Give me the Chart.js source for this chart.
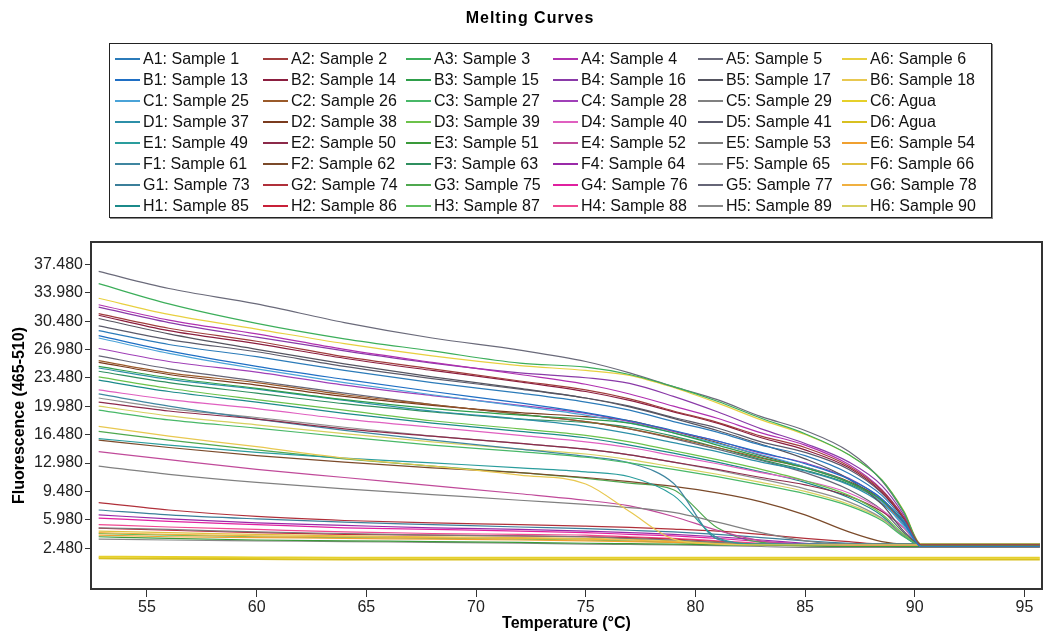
<!DOCTYPE html>
<html>
<head>
<meta charset="utf-8">
<script src="https://cdn.jsdelivr.net/npm/chart.js@4.4.0/dist/chart.umd.min.js"></script>
<style>
  body { margin: 0; background: #fff; font-family: "Liberation Sans", Arial, sans-serif; }
  #wrap { position: relative; width: 1044px; height: 638px; overflow: hidden; }
  #plot { position: absolute; left: 0; top: 0; }
  #title { position: absolute; left: 0; width: 1060px; top: 9px; text-align: center;
           font-weight: bold; font-size: 16px; letter-spacing: 1px; color: #000; }
  #legend { position: absolute; left: 109px; top: 43px; width: 883px; height: 175px;
            box-sizing: border-box; border: 1px solid #222; box-shadow: 1px 1px 0 #888;
            padding: 4px 0 0 5px; display: grid;
            grid-template-columns: 148px 143px 147px 145px 144px 1fr; grid-auto-rows: 21px; background: #fff; }
  .item { display: flex; align-items: center; font-size: 16px; color: #111; white-space: nowrap; }
  .item span.ln { display: inline-block; width: 25px; height: 2px; margin-right: 3px; }
</style>
</head>
<body>
<div id="wrap">
  <canvas id="plot" width="1044" height="638"></canvas>
  <div id="title">Melting Curves</div>
  <div id="legend"></div>
</div>
<script>
// temperatures (°C) shared by every curve
const temps = [52.8, 56, 60, 64, 68, 72, 75, 77, 79, 81, 83, 85, 87, 88.5, 89.5, 90.3, 95.7];
const xTicks = [55, 60, 65, 70, 75, 80, 85, 90, 95];
const yTicks = [2.48, 5.98, 9.48, 12.98, 16.48, 19.98, 23.48, 26.98, 30.48, 33.98, 37.48];

const wellLabels = [
  'A1: Sample 1', 'A2: Sample 2', 'A3: Sample 3', 'A4: Sample 4', 'A5: Sample 5', 'A6: Sample 6',
  'B1: Sample 13', 'B2: Sample 14', 'B3: Sample 15', 'B4: Sample 16', 'B5: Sample 17', 'B6: Sample 18',
  'C1: Sample 25', 'C2: Sample 26', 'C3: Sample 27', 'C4: Sample 28', 'C5: Sample 29', 'C6: Agua',
  'D1: Sample 37', 'D2: Sample 38', 'D3: Sample 39', 'D4: Sample 40', 'D5: Sample 41', 'D6: Agua',
  'E1: Sample 49', 'E2: Sample 50', 'E3: Sample 51', 'E4: Sample 52', 'E5: Sample 53', 'E6: Sample 54',
  'F1: Sample 61', 'F2: Sample 62', 'F3: Sample 63', 'F4: Sample 64', 'F5: Sample 65', 'F6: Sample 66',
  'G1: Sample 73', 'G2: Sample 74', 'G3: Sample 75', 'G4: Sample 76', 'G5: Sample 77', 'G6: Sample 78',
  'H1: Sample 85', 'H2: Sample 86', 'H3: Sample 87', 'H4: Sample 88', 'H5: Sample 89', 'H6: Sample 90'
];

const lineColors = [
  '#2b7bb9', '#a03c3c', '#3cae5a', '#b030b0', '#6a6a7a', '#e8d040',
  '#1f6fc4', '#8b1e3f', '#2e9e4a', '#8a3aa8', '#555560', '#e8c850',
  '#4aa3d8', '#9a5a2a', '#48b868', '#a040b8', '#808080', '#e6d02a',
  '#2c8fa8', '#7a3b1e', '#6cc24a', '#e060c0', '#5a5a6a', '#d8c020',
  '#2a9d9d', '#8c2a4a', '#3a9a3a', '#c04a9a', '#7a7a7a', '#f0a030',
  '#3f86a0', '#7b4a2a', '#2f8f5f', '#9a2aa8', '#909090', '#e0c040',
  '#3b7f9a', '#b0303a', '#4fa84f', '#e020a0', '#666677', '#f0b040',
  '#1b8a8a', '#c82038', '#5fbf5f', '#f04890', '#888888', '#d8d060'
];

// fluorescence per well
const A1 = [29.3, 27.6, 26.1, 24.4, 22.9, 21.6, 20.5, 19.5, 18.1, 16.8, 15.2, 13.9, 11.7, 9.0, 5.9, 2.7, 2.7];
const A2 = [31.4, 29.6, 28.0, 26.1, 24.6, 23.1, 22.0, 20.9, 19.4, 18.0, 16.3, 14.9, 12.6, 9.6, 6.3, 2.9, 2.9];
const A3 = [35.1, 32.6, 30.2, 28.3, 26.8, 25.3, 24.8, 23.9, 22.4, 20.6, 18.5, 16.6, 14.0, 10.9, 7.0, 2.8, 2.8];
const A4 = [32.5, 30.6, 28.9, 27.0, 25.4, 23.9, 22.7, 21.5, 20.0, 18.5, 16.7, 15.2, 12.8, 9.7, 6.3, 2.7, 2.7];
const A5 = [36.6, 34.5, 32.6, 30.3, 28.4, 26.9, 25.5, 24.1, 22.4, 20.8, 18.7, 17.0, 14.4, 10.8, 6.9, 2.9, 2.9];
const A6 = [33.3, 31.3, 29.5, 27.7, 26.2, 25.0, 24.4, 23.8, 22.3, 20.4, 18.3, 16.5, 14.0, 10.9, 7.1, 3.0, 3.0];
const B1 = [28.7, 26.8, 24.9, 23.3, 21.8, 20.4, 19.2, 18.2, 17.0, 15.7, 14.3, 12.9, 11.0, 8.6, 5.6, 2.8, 2.8];
const B2 = [31.2, 29.3, 27.7, 25.9, 24.4, 23.0, 21.8, 20.7, 19.3, 17.9, 16.1, 14.6, 12.4, 9.4, 6.1, 2.8, 2.8];
const B3 = [24.9, 23.5, 22.2, 20.8, 19.7, 18.9, 18.4, 17.9, 16.7, 15.2, 13.7, 12.4, 10.6, 8.4, 5.8, 2.9, 2.9];
const B4 = [32.2, 30.3, 28.5, 26.8, 25.3, 24.1, 23.5, 22.8, 21.2, 19.3, 17.2, 15.4, 13.1, 10.2, 6.6, 2.8, 2.8];
const B5 = [30.8, 28.9, 27.0, 25.2, 23.6, 22.2, 21.0, 19.9, 18.5, 17.0, 15.3, 13.5, 11.0, 7.9, 4.6, 2.9, 2.9];
const B6 = [17.5, 16.3, 15.0, 13.6, 12.6, 11.5, 10.4, 7.0, 3.6, 3.0, 2.9, 2.9, 2.9, 2.9, 2.9, 2.9, 2.9];
const C1 = [28.4, 26.5, 24.6, 22.9, 21.4, 20.0, 18.9, 17.9, 16.7, 15.4, 14.0, 12.5, 10.6, 8.2, 5.2, 2.9, 2.9];
const C2 = [25.6, 24.1, 22.9, 21.4, 20.2, 19.0, 18.1, 17.2, 16.1, 14.9, 13.6, 12.4, 10.6, 8.2, 5.6, 2.9, 2.9];
const C3 = [19.5, 18.3, 17.3, 16.2, 15.2, 14.4, 13.7, 13.0, 12.2, 11.3, 10.3, 9.2, 7.7, 5.9, 3.9, 2.9, 2.9];
const C4 = [27.1, 25.5, 24.2, 22.6, 21.3, 20.1, 19.1, 18.1, 16.9, 15.7, 14.2, 13.0, 11.1, 8.5, 5.7, 2.8, 2.8];
const C5 = [12.6, 11.6, 10.6, 9.8, 9.1, 8.4, 7.9, 7.5, 6.9, 5.7, 4.4, 3.4, 3.0, 3.0, 3.0, 3.0, 3.0];
const C6 = [1.45, 1.4, 1.35, 1.3, 1.3, 1.3, 1.3, 1.3, 1.3, 1.3, 1.3, 1.3, 1.3, 1.3, 1.3, 1.3, 1.3];
const D1 = [24.7, 23.3, 22.1, 20.7, 19.4, 18.4, 17.5, 16.6, 15.5, 14.4, 13.1, 12.0, 10.3, 8.0, 5.4, 2.8, 2.8];
const D2 = [25.4, 23.9, 22.6, 21.2, 20.1, 19.2, 18.7, 18.2, 16.9, 15.5, 13.9, 12.5, 10.7, 8.5, 5.7, 2.8, 2.8];
const D3 = [23.6, 22.2, 20.8, 19.5, 18.2, 17.2, 16.4, 15.6, 14.5, 13.4, 12.2, 10.8, 9.0, 6.7, 4.2, 3.0, 3.0];
const D4 = [22.0, 20.8, 19.7, 18.4, 17.4, 16.4, 15.6, 14.9, 13.9, 12.9, 11.8, 10.8, 9.3, 7.2, 5.0, 2.7, 2.7];
const D5 = [29.9, 28.2, 26.7, 24.9, 23.4, 22.1, 21.0, 20.0, 18.6, 17.3, 15.6, 14.3, 12.2, 9.3, 6.2, 3.0, 3.0];
const D6 = [1.25, 1.2, 1.15, 1.1, 1.1, 1.1, 1.1, 1.1, 1.1, 1.1, 1.1, 1.1, 1.1, 1.1, 1.1, 1.1, 1.1];
const E1 = [16.0, 15.2, 14.3, 13.6, 13.0, 12.4, 11.9, 11.3, 9.0, 3.8, 3.0, 3.0, 3.0, 3.0, 3.0, 3.0, 3.0];
const E2 = [20.5, 19.4, 18.4, 17.2, 16.3, 15.4, 14.7, 14.0, 13.1, 12.2, 11.2, 10.3, 8.9, 7.0, 5.0, 2.9, 2.9];
const E3 = [3.9, 3.7, 3.5, 3.4, 3.3, 3.2, 3.1, 3.05, 3.0, 2.9, 2.85, 2.8, 2.7, 2.7, 2.7, 2.7, 2.7];
const E4 = [14.4, 13.4, 12.2, 11.2, 10.2, 9.2, 8.4, 7.7, 6.4, 4.7, 3.4, 3.0, 2.9, 2.9, 2.9, 2.9, 2.9];
const E5 = [5.0, 4.8, 4.5, 4.3, 4.1, 4.0, 3.9, 3.7, 3.5, 3.2, 3.0, 2.8, 2.7, 2.7, 2.6, 2.6, 2.6];
const E6 = [4.1, 3.9, 3.8, 3.7, 3.6, 3.5, 3.4, 3.3, 3.2, 3.0, 2.9, 2.8, 2.8, 2.8, 2.8, 2.8, 2.8];
const F1 = [21.5, 20.0, 18.4, 17.0, 15.8, 14.7, 13.8, 13.0, 10.5, 3.6, 3.0, 3.0, 3.0, 3.0, 3.0, 3.0, 3.0];
const F2 = [15.8, 14.9, 13.9, 13.1, 12.4, 11.8, 11.2, 10.7, 10.1, 9.3, 8.2, 6.6, 4.5, 3.3, 3.0, 3.0, 3.0];
const F3 = [24.3, 22.9, 21.6, 20.3, 19.3, 18.4, 18.0, 17.4, 16.3, 14.9, 13.4, 12.1, 10.4, 8.3, 5.7, 2.9, 2.9];
const F4 = [6.6, 6.1, 5.6, 5.3, 5.0, 4.8, 4.6, 4.4, 4.2, 3.9, 3.5, 3.1, 2.8, 2.7, 2.7, 2.7, 2.7];
const F5 = [21.0, 19.7, 18.6, 17.4, 16.3, 15.4, 14.7, 14.0, 13.1, 12.1, 11.0, 9.8, 8.2, 6.2, 4.1, 3.0, 3.0];
const F6 = [4.6, 4.4, 4.2, 4.0, 3.9, 3.8, 3.7, 3.6, 3.4, 3.2, 3.0, 2.9, 2.8, 2.8, 2.8, 2.8, 2.8];
const G1 = [7.2, 6.6, 6.1, 5.7, 5.4, 5.1, 4.9, 4.7, 4.5, 4.2, 3.8, 3.4, 3.1, 3.0, 2.9, 2.9, 2.9];
const G2 = [8.1, 7.2, 6.4, 5.9, 5.6, 5.4, 5.2, 5.05, 4.85, 4.6, 4.2, 3.7, 3.3, 3.0, 3.0, 2.9, 2.9];
const G3 = [16.9, 15.8, 14.6, 13.5, 12.6, 11.8, 11.1, 10.5, 9.7, 5.0, 3.2, 3.0, 3.0, 3.0, 3.0, 3.0, 3.0];
const G4 = [6.2, 5.8, 5.4, 5.0, 4.8, 4.6, 4.4, 4.2, 4.0, 3.7, 3.3, 3.0, 2.8, 2.7, 2.7, 2.7, 2.7];
const G5 = [26.2, 24.6, 23.1, 21.6, 20.2, 19.0, 18.1, 17.2, 16.0, 14.7, 13.3, 11.8, 9.7, 7.2, 4.4, 3.0, 3.0];
const G6 = [4.4, 4.2, 4.0, 3.9, 3.8, 3.7, 3.6, 3.5, 3.3, 3.1, 2.9, 2.9, 2.8, 2.8, 2.8, 2.8, 2.8];
const H1 = [23.2, 21.8, 20.5, 19.1, 17.9, 16.9, 16.1, 15.2, 14.2, 13.1, 11.9, 10.6, 8.7, 6.5, 4.0, 2.8, 2.8];
const H2 = [4.95, 4.7, 4.4, 4.2, 4.1, 4.0, 3.9, 3.8, 3.6, 3.3, 3.0, 2.9, 2.8, 2.8, 2.8, 2.8, 2.8];
const H3 = [4.3, 4.1, 3.9, 3.8, 3.7, 3.6, 3.5, 3.4, 3.2, 3.0, 2.9, 2.8, 2.8, 2.7, 2.7, 2.7, 2.7];
const H4 = [5.4, 5.1, 4.8, 4.5, 4.3, 4.2, 4.1, 3.9, 3.7, 3.4, 3.1, 2.9, 2.7, 2.7, 2.7, 2.7, 2.7];
const H5 = [3.6, 3.5, 3.4, 3.3, 3.2, 3.1, 3.0, 2.95, 2.9, 2.8, 2.7, 2.6, 2.6, 2.6, 2.6, 2.6, 2.6];
const H6 = [20.0, 18.8, 17.7, 16.6, 15.6, 14.7, 14.1, 13.4, 12.5, 11.6, 10.6, 9.5, 7.9, 6.1, 4.0, 3.0, 3.0];

const curves = [
  A1, A2, A3, A4, A5, A6,
  B1, B2, B3, B4, B5, B6,
  C1, C2, C3, C4, C5, C6,
  D1, D2, D3, D4, D5, D6,
  E1, E2, E3, E4, E5, E6,
  F1, F2, F3, F4, F5, F6,
  G1, G2, G3, G4, G5, G6,
  H1, H2, H3, H4, H5, H6
];

const fontFam = "'Liberation Sans', Arial, sans-serif";

// frame round the plot area
const frame = {
  id: 'frame',
  afterDatasetsDraw(chart) {
    const { ctx, chartArea: a } = chart;
    ctx.save();
    ctx.strokeStyle = '#333';
    ctx.lineWidth = 2;
    ctx.strokeRect(a.left, a.top, a.right - a.left, a.bottom - a.top);
    ctx.restore();
  }
};

const ctx = document.getElementById('plot').getContext('2d');
const chart = new Chart(ctx, {
  type: 'line',
  data: {
    datasets: curves.map((vals, i) => ({
      label: wellLabels[i],
      data: temps.map((t, j) => ({ x: t, y: vals[j] })),
      borderColor: lineColors[i],
      backgroundColor: lineColors[i],
      borderWidth: wellLabels[i].endsWith('Agua') ? 2 : 1.2,
      pointRadius: 0,
      fill: false,
      cubicInterpolationMode: 'monotone'
    }))
  },
  options: {
    responsive: false,
    animation: false,
    devicePixelRatio: 1,
    layout: { padding: { top: 242, right: 2, left: 0, bottom: 0 } },
    plugins: { legend: { display: false }, tooltip: { enabled: false } },
    scales: {
      x: {
        type: 'linear',
        min: 52.45,
        max: 95.8,
        afterBuildTicks: s => { s.ticks = xTicks.map(v => ({ value: v })); },
        afterFit: s => { s.height = 49; },
        grid: { drawOnChartArea: false, tickLength: 8, tickColor: '#333' },
        border: { display: false },
        ticks: { font: { size: 16, family: fontFam }, color: '#222', padding: 1, maxRotation: 0 },
        title: {
          display: true, text: 'Temperature (°C)', color: '#000',
          font: { size: 16, weight: 'bold', family: fontFam }, padding: { top: 0, bottom: 5 }
        }
      },
      y: {
        min: -2.54,
        max: 40.23,
        afterBuildTicks: s => { s.ticks = yTicks.map(v => ({ value: v })); },
        afterFit: s => { s.width = 91; },
        grid: { drawOnChartArea: false, tickLength: 6, tickColor: '#333' },
        border: { display: false },
        ticks: { font: { size: 16, family: fontFam }, color: '#222', padding: 2, callback: v => v.toFixed(3) },
        title: {
          display: true, text: 'Fluorescence (465-510)', color: '#000',
          font: { size: 16, weight: 'bold', family: fontFam }, padding: { top: 10, bottom: 0 }
        }
      }
    }
  },
  plugins: [frame]
});

// legend box, 6 columns like the plate layout
const legendBox = document.getElementById('legend');
chart.data.datasets.forEach(ds => {
  const item = document.createElement('div');
  item.className = 'item';
  const ln = document.createElement('span');
  ln.className = 'ln';
  ln.style.background = ds.borderColor;
  item.appendChild(ln);
  item.appendChild(document.createTextNode(ds.label));
  legendBox.appendChild(item);
});
</script>
</body>
</html>
